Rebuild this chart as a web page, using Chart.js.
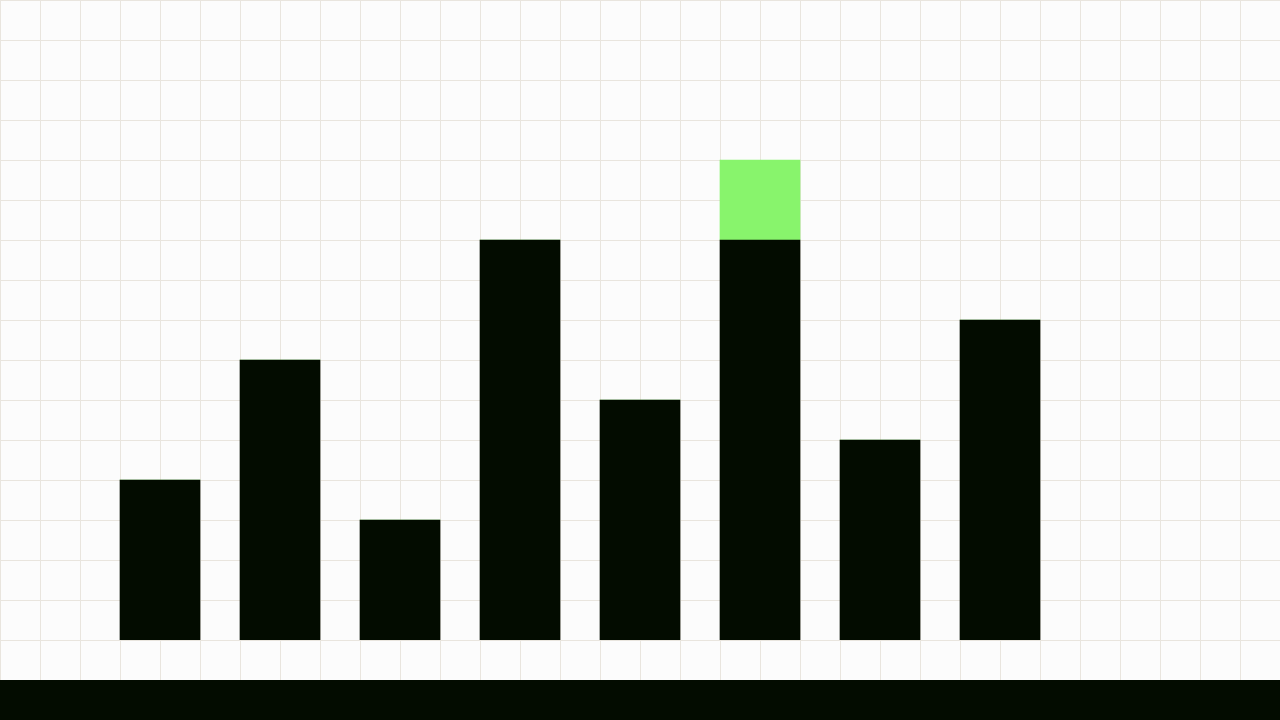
<!DOCTYPE html>
<html>
<head>
<meta charset="utf-8">
<script src="https://cdn.jsdelivr.net/npm/chart.js@4"></script>
<style>
  html, body { margin: 0; padding: 0; background: #fcfcfc; overflow: hidden; }
  #wrap {
    position: relative; width: 1280px; height: 680px;
    background-color: #fcfcfc;
    background-image:
      linear-gradient(to right, #e9e5de 1px, transparent 1px),
      linear-gradient(to bottom, #e9e5de 1px, transparent 1px);
    background-size: 40px 40px;
  }
  #band { width: 1280px; height: 40px; background: #030c00; }
</style>
</head>
<body>
<div id="wrap"><canvas id="chart" width="1280" height="680"></canvas></div>
<div id="band"></div>
<script>
// 数据
var categories = ['1', '2', '3', '4', '5', '6', '7', '8'];
var baseValues = [4, 7, 3, 10, 6, 10, 5, 8];
var highlightValues = [0, 0, 0, 0, 0, 2, 0, 0];

new Chart(document.getElementById('chart').getContext('2d'), {
    type: 'bar',
    data: {
        labels: categories,
        datasets: [{
            data: baseValues,
            backgroundColor: '#030c00',
            borderWidth: 0,
            barThickness: 80
        }, {
            data: highlightValues,
            backgroundColor: '#88f46c',
            borderWidth: 0,
            barThickness: 80
        }]
    },
    options: {
        responsive: false,
        animation: false,
        devicePixelRatio: 1,
        layout: { padding: { left: 100, right: 220, top: 0, bottom: 40 } },
        plugins: { legend: { display: false }, tooltip: { enabled: false } },
        scales: {
            x: {
                stacked: true,
                display: false,
                grid: { display: false }
            },
            y: {
                stacked: true,
                display: false,
                min: 0,
                max: 16,
                grid: { display: false }
            }
        }
    }
});
</script>
</body>
</html>
